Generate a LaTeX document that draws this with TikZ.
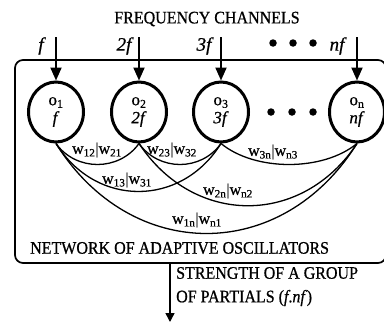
\documentclass[tikz,border=0pt]{standalone}
\usepackage{fontspec}
\setmainfont[FakeBold=0.8]{Liberation Serif}
\usetikzlibrary{arrows.meta,shapes.geometric}
\begin{document}
\begin{tikzpicture}[x=1pt,y=-1pt,
  osc/.style={ellipse,draw,line width=3pt,minimum width=55pt,minimum height=60pt,inner sep=0pt,align=center,font=\fontsize{17}{17}\selectfont},
  capt/.style={font=\fontsize{16}{18}\selectfont,inner sep=0pt,yscale=1.1},
  chan/.style={font=\fontsize{19}{19}\selectfont\itshape,inner sep=0pt},
  wl/.style={font=\fontsize{16}{16}\selectfont,inner sep=0pt},
  inarrow/.style={line width=2pt,-{Triangle[length=13pt,width=11pt]}},
  outarrow/.style={line width=1.5pt,-{Triangle[length=9pt,width=9pt]}},
  link/.style={line width=1.3pt},
  dot/.style={circle,fill,inner sep=0pt,minimum size=7.5pt}]
\useasboundingbox (0,0) rectangle (384,324);

% title
\node[capt] (title) at (207,19) {FREQUENCY CHANNELS};

% network box
\node[draw,line width=1.7pt,rounded corners=8pt,minimum width=371pt,minimum height=203pt,inner sep=0pt] (net) at (200.5,161.5) {};
\node[capt,anchor=west] (netlbl) at (30,248) {NETWORK OF ADAPTIVE OSCILLATORS};

% oscillators
\node[osc] (o1) at (56,112) {o\textsubscript{1}\\[1pt]\textit{f}};
\node[osc] (o2) at (139,112) {o\textsubscript{2}\\[1pt]\textit{2f}};
\node[osc] (o3) at (221,112) {o\textsubscript{3}\\[1pt]\textit{3f}};
\node[osc] (on) at (357,112) {o\textsubscript{n}\\[1pt]\textit{nf}};

% dots between oscillators
\node[dot] (d1) at (271,112) {};
\node[dot] (d2) at (292,112) {};
\node[dot] (d3) at (313,112) {};

% frequency channel inputs
\coordinate (a1) at (56,37);
\coordinate (a2) at (139,37);
\coordinate (a3) at (221,37);
\coordinate (an) at (357,37);
\draw[inarrow] (a1) -- (o1);
\draw[inarrow] (a2) -- (o2);
\draw[inarrow] (a3) -- (o3);
\draw[inarrow] (an) -- (on);
\node[chan] (f1) at (41,46) {f};
\node[chan] (f2) at (124,46) {2f};
\node[chan] (f3) at (204,46) {3f};
\node[chan] (fn) at (337,46) {nf};
\node[dot] (t1) at (273,43) {};
\node[dot] (t2) at (293,43) {};
\node[dot] (t3) at (313,43) {};

% couplings
\draw[link] (o1.south) .. controls +(20,28) and +(-20,28) .. (o2.south);
\draw[link] (o2.south) .. controls +(20,28) and +(-20,28) .. (o3.south);
\draw[link] (o3.south) .. controls +(34,28) and +(-34,28) .. (on.south);
\draw[link] (o1.south) .. controls +(40,64) and +(-40,64) .. (o3.south);
\draw[link] (o2.south) .. controls +(55,83) and +(-55,83) .. (on.south);
\draw[link] (o1.south) .. controls +(75,120) and +(-75,120) .. (on.south);

\node[wl] (w12) at (97,150) {w\textsubscript{12}|w\textsubscript{21}};
\node[wl] (w23) at (172,150) {w\textsubscript{23}|w\textsubscript{32}};
\node[wl] (w3n) at (273,152) {w\textsubscript{3n}|w\textsubscript{n3}};
\node[wl] (w13) at (127,180) {w\textsubscript{13}|w\textsubscript{31}};
\node[wl] (w2n) at (228,191) {w\textsubscript{2n}|w\textsubscript{n2}};
\node[wl] (w1n) at (197,220) {w\textsubscript{1n}|w\textsubscript{n1}};

% output
\coordinate (outS) at (170,263);
\coordinate (outE) at (170,322);
\draw[outarrow] (outS) -- (outE);
\node[capt,anchor=west] (s1) at (176,273) {STRENGTH OF A GROUP};
\node[capt,anchor=west] (s2) at (176,298) {OF PARTIALS (\textit{f}.\textit{nf})};
\end{tikzpicture}
\end{document}
